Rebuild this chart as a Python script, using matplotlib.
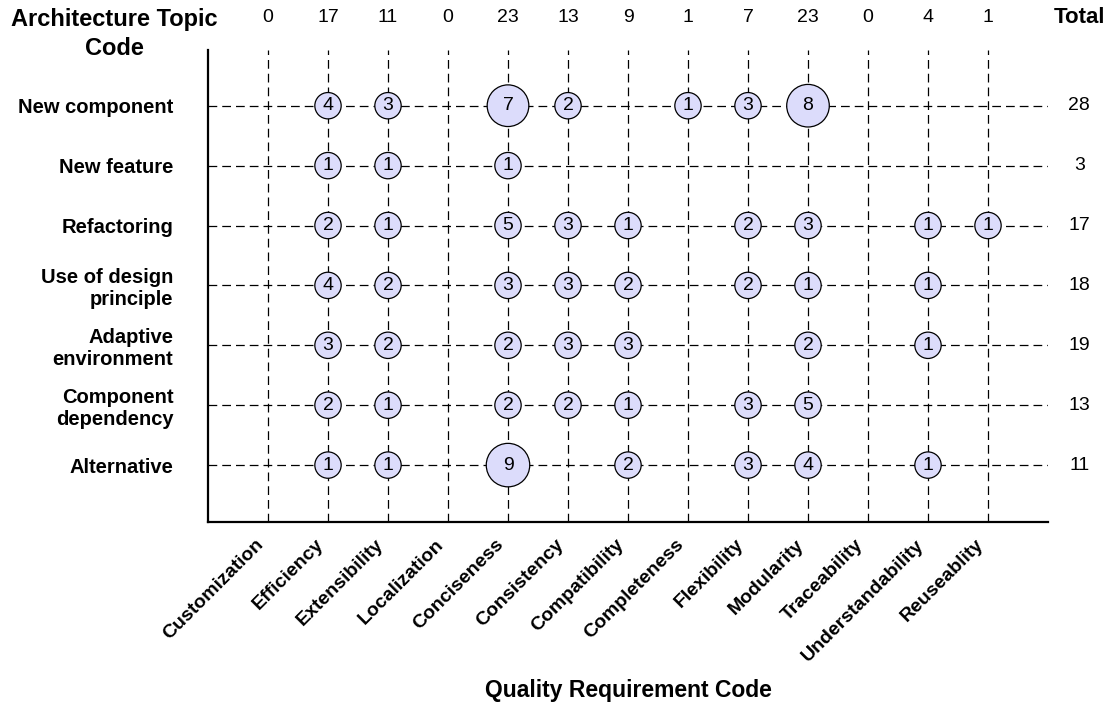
import matplotlib.pyplot as plt
import matplotlib.transforms as mtransforms
import numpy as np

plt.rcParams['font.family'] = ['Liberation Sans', 'DejaVu Sans']

qualities = ['Customization', 'Efficiency', 'Extensibility', 'Localization',
             'Conciseness', 'Consistency', 'Compatibility', 'Completeness',
             'Flexibility', 'Modularity', 'Traceability', 'Understandability',
             'Reuseablity']
topics = ['New component', 'New feature', 'Refactoring',
          'Use of design\nprinciple', 'Adaptive\nenvironment',
          'Component\ndependency', 'Alternative']
col_totals = [0, 17, 11, 0, 23, 13, 9, 1, 7, 23, 0, 4, 1]
row_totals = [28, 3, 17, 18, 19, 13, 11]

# counts[topic][quality], 0 = no bubble
counts = [
    [0, 4, 3, 0, 7, 2, 0, 1, 3, 8, 0, 0, 0],
    [0, 1, 1, 0, 1, 0, 0, 0, 0, 0, 0, 0, 0],
    [0, 2, 1, 0, 5, 3, 1, 0, 2, 3, 0, 1, 1],
    [0, 4, 2, 0, 3, 3, 2, 0, 2, 1, 0, 1, 0],
    [0, 3, 2, 0, 2, 3, 3, 0, 0, 2, 0, 1, 0],
    [0, 2, 1, 0, 2, 2, 1, 0, 3, 5, 0, 0, 0],
    [0, 1, 1, 0, 9, 0, 2, 0, 3, 4, 0, 1, 0],
]


def bubble_size(v):
    # small circles for 1-5, large ones for bigger counts
    return 360 if v < 6 else 900 + 40 * (v - 7)


def plot():
    fig = plt.figure(figsize=(11.12, 7.06), dpi=100)
    ax = fig.add_axes([208 / 1112, 1 - 522 / 706, 840 / 1112, 472 / 706])

    xs, ys, vs = [], [], []
    for r, row in enumerate(counts):
        for c, v in enumerate(row):
            if v > 0:
                xs.append(c)
                ys.append(r)
                vs.append(v)
    ax.scatter(xs, ys, s=[bubble_size(v) for v in vs], c='#dcdcfb',
               edgecolors='black', linewidths=0.9, zorder=3)
    for x, y, v in zip(xs, ys, vs):
        ax.text(x, y, str(v), ha='center', va='center', fontsize=14, zorder=4)

    ax.set_xlim(-1, 13)
    ax.set_ylim(6.95, -0.93)
    ax.set_xticks(range(len(qualities)))
    ax.set_xticklabels([])
    # rotated category labels, placed by hand so they end just left of the tick
    shift = mtransforms.ScaledTranslation(-7 / 100, -20 / 100,
                                          fig.dpi_scale_trans)
    for c, name in enumerate(qualities):
        ax.text(c, 0, name, transform=ax.get_xaxis_transform() + shift,
                rotation=45, ha='right', va='center', rotation_mode='anchor',
                fontsize=14, fontweight='bold', clip_on=False)
    ax.set_yticks(range(len(topics)))
    ax.set_yticklabels(topics, fontsize=14.5, fontweight='bold')
    ax.tick_params(axis='x', length=0)
    ax.tick_params(axis='y', length=0, pad=25)
    ax.grid(True, color='black', linestyle=(0, (7, 4)), linewidth=0.9, zorder=1)
    ax.set_axisbelow(True)
    for side in ['top', 'right']:
        ax.spines[side].set_visible(False)
    for side in ['left', 'bottom']:
        ax.spines[side].set_linewidth(1.6)
    ax.text(6, 0, 'Quality Requirement Code', transform=ax.get_xaxis_transform()
            + mtransforms.ScaledTranslation(0, -168 / 100, fig.dpi_scale_trans),
            ha='center', va='center', fontsize=16.5, fontweight='bold',
            clip_on=False)

    top = ax.get_xaxis_transform()
    for c, t in enumerate(col_totals):
        ax.text(c, 1.068, str(t), transform=top, ha='center', va='center',
                fontsize=14, clip_on=False)
    ax.text(13.52, 1.068, 'Total', transform=top, ha='center', va='center',
            fontsize=16, fontweight='bold', clip_on=False)
    for r, t in enumerate(row_totals):
        ax.text(13.52, r, str(t), ha='center', va='center', fontsize=14,
                clip_on=False)
    fig.text(114 / 1112, 1 - 8 / 706, 'Architecture Topic\nCode', ha='center',
             va='top', fontsize=17, fontweight='bold', linespacing=1.35)

    fig.savefig('out.png', dpi=100)


plot()
